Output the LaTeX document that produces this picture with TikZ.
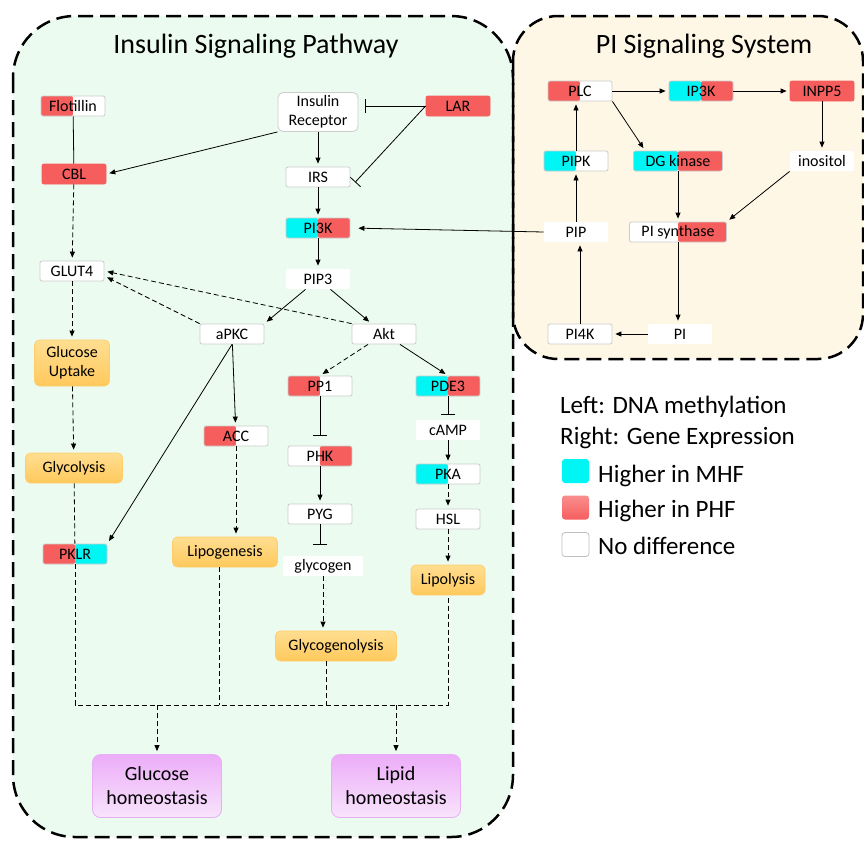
\documentclass[tikz,border=0pt]{standalone}
\usepackage{fontspec}
\setmainfont{Carlito}
\usetikzlibrary{arrows.meta}

\definecolor{rojo}{RGB}{246,94,94}
\definecolor{cian}{RGB}{0,245,245}
\definecolor{verdefondo}{RGB}{235,251,240}
\definecolor{cremafondo}{RGB}{254,247,230}
\definecolor{naranja}{RGB}{255,201,92}
\definecolor{naranjaclaro}{RGB}{255,222,145}
\definecolor{naranjaborde}{RGB}{255,205,105}
\definecolor{morado}{RGB}{236,172,248}
\definecolor{moradoclaro}{RGB}{248,228,252}
\definecolor{moradoborde}{RGB}{232,175,245}

\tikzset{
  gen/.style={rounded corners=2pt, minimum width=64pt, minimum height=20pt, inner sep=1pt,
    font=\fontsize{16}{19}\selectfont, draw=black!20, line width=0.8pt},
  mitad/.style 2 args={gen, path picture={
      \fill[#1] (path picture bounding box.south west) rectangle (path picture bounding box.north);
      \fill[#2] (path picture bounding box.south) rectangle (path picture bounding box.north east);}},
  rojogen/.style={gen, fill=rojo, draw=rojo},
  libre/.style={gen, draw=none, fill=white},
  proceso/.style={rounded corners=5pt, draw=naranjaborde, top color=naranjaclaro, bottom color=naranja,
    minimum height=30pt, inner sep=2pt, align=center, font=\fontsize{16}{19}\selectfont, line width=0.8pt},
  homeo/.style={rounded corners=8pt, draw=moradoborde, top color=morado, bottom color=moradoclaro,
    minimum width=129pt, minimum height=63pt, align=center, font=\fontsize{20}{24}\selectfont, line width=0.8pt},
  titulo/.style={font=\fontsize{28}{32}\selectfont, inner sep=0pt},
  leyenda/.style={font=\fontsize{25}{30}\selectfont, inner sep=0pt},
  cuadro/.style={minimum width=27pt, minimum height=24pt, rounded corners=3pt, inner sep=0pt},
  panel/.style={line width=2.5pt, dash pattern=on 15pt off 7pt},
  linea/.style={line width=0.8pt},
  guion/.style={linea, dash pattern=on 5pt off 3pt},
  flecha/.style={linea, -{Triangle[length=6pt,width=5pt]}, shorten >=3pt},
  punteada/.style={flecha, dash pattern=on 5pt off 3pt},
  inhibe/.style={linea, -{Bar[width=14pt]}, shorten >=7pt},
}

\begin{document}
\begin{tikzpicture}[x=1pt, y=-1pt]
  \useasboundingbox (0,0) rectangle (864,841);

  % Paneles
  \fill[verdefondo, rounded corners=62pt] (13,16) rectangle (513,837);
  \fill[cremafondo, rounded corners=45pt] (513,16) rectangle (863,359);
  \draw[panel, rounded corners=62pt] (13,16) rectangle (513,837);
  \draw[panel, rounded corners=45pt] (513,16) rectangle (863,359);

  % Titulos
  \node[titulo, anchor=base] (tinsulina) at (256,53) {Insulin Signaling Pathway};
  \node[titulo, anchor=base] (tpi) at (704,53) {PI Signaling System};

  % Ruta de la insulina
  \node[mitad={rojo}{white}] (flot) at (73,106) {Flotillin};
  \node[gen, fill=white, minimum width=80pt, minimum height=39pt, align=center, rounded corners=5pt] (ir) at (318,112) {Insulin\\Receptor};
  \node[rojogen] (lar) at (458,106) {LAR};
  \node[rojogen] (cbl) at (74,174) {CBL};
  \node[gen, fill=white] (irs) at (318,177) {IRS};
  \node[mitad={cian}{rojo}] (pi3k) at (318,228) {PI3K};
  \node[gen, fill=white] (glut4) at (72,271) {GLUT4};
  \node[libre] (pip3) at (318,279) {PIP3};
  \node[gen, fill=white] (apkc) at (232,334) {aPKC};
  \node[gen, fill=white] (akt) at (384,334) {Akt};
  \node[proceso, minimum width=75pt, minimum height=46pt] (captacion) at (72,363) {Glucose\\Uptake};
  \node[mitad={rojo}{white}] (pp1) at (320,386) {PP1};
  \node[mitad={cian}{rojo}] (pde3) at (448,386) {PDE3};
  \node[mitad={rojo}{white}] (acc) at (236,436) {ACC};
  \node[libre] (camp) at (448,430) {cAMP};
  \node[proceso, minimum width=97pt] (glucolisis) at (74,468) {Glycolysis};
  \node[mitad={white}{rojo}] (phk) at (320,456) {PHK};
  \node[mitad={cian}{white}] (pka) at (448,474) {PKA};
  \node[gen, fill=white] (pyg) at (320,514) {PYG};
  \node[gen, fill=white] (hsl) at (448,519) {HSL};
  \node[mitad={rojo}{cian}] (pklr) at (75,554) {PKLR};
  \node[proceso, minimum width=105pt] (lipogen) at (225,552) {Lipogenesis};
  \node[libre, minimum width=80pt] (glucogeno) at (323,566) {glycogen};
  \node[proceso, minimum width=74pt] (lipolisis) at (448,580) {Lipolysis};
  \node[proceso, minimum width=121pt] (glucogenolisis) at (336,646) {Glycogenolysis};
  \node[homeo] (hglucosa) at (157,786) {Glucose\\homeostasis};
  \node[homeo] (hlipido) at (396,786) {Lipid\\homeostasis};

  % Sistema PI
  \node[mitad={rojo}{white}] (plc) at (580,91) {PLC};
  \node[mitad={cian}{rojo}] (ip3k) at (701,91) {IP3K};
  \node[rojogen] (inpp5) at (822,91) {INPP5};
  \node[mitad={cian}{white}] (pipk) at (576,161) {PIPK};
  \node[mitad={cian}{rojo}, minimum width=89pt] (dgk) at (678,161) {DG kinase};
  \node[libre] (inositol) at (822,161) {inositol};
  \node[libre] (pip) at (576,232) {PIP};
  \node[mitad={white}{rojo}, minimum width=97pt] (pis) at (678,232) {PI synthase};
  \node[gen, fill=white] (pi4k) at (580,334) {PI4K};
  \node[libre] (pi) at (680,334) {PI};

  % Leyenda
  \node[leyenda, anchor=base west] (ley1) at (560,413) {Left: DNA methylation};
  \node[leyenda, anchor=base west] (ley2) at (560,444) {Right: Gene Expression};
  \node[cuadro, fill=cian] (c1) at (575.5,471) {};
  \node[cuadro, top color=rojo!70, bottom color=rojo] (c2) at (575.5,507.5) {};
  \node[cuadro, fill=white, draw=black!25, line width=0.8pt] (c3) at (575.5,544.5) {};
  \node[leyenda, anchor=base west] (ley3) at (598,482) {Higher in MHF};
  \node[leyenda, anchor=base west] (ley4) at (598,517) {Higher in PHF};
  \node[leyenda, anchor=base west] (ley5) at (598,554) {No difference};

  % Flechas insulina
  \draw[linea] (flot) -- (cbl);
  \draw[flecha] (ir.south west) -- (cbl.east);
  \draw[flecha] (ir) -- (irs);
  \draw[inhibe] (lar.west) -- (lar.west -| ir.east);
  \draw[inhibe] (lar.west) -- (irs.south east);
  \draw[flecha] (irs) -- (pi3k);
  \draw[flecha] (pi3k) -- (pip3);
  \draw[flecha, shorten >=8pt] (pip.west) -- (pi3k.east);
  \draw[punteada] (cbl) -- (glut4);
  \draw[flecha] (pip3) -- (apkc.north east);
  \draw[flecha] (pip3) -- (akt);
  \draw[punteada] (apkc.north west) -- ([yshift=-5pt]glut4.east);
  \draw[punteada] (akt.north west) -- (glut4.east);
  \draw[punteada] (glut4) -- (captacion);
  \draw[punteada] (captacion) -- (glucolisis);
  \draw[guion] (glucolisis) -- (pklr);
  \draw[flecha] (apkc.south) -- (pklr.north east);
  \draw[flecha] (apkc) -- (acc);
  \draw[punteada] (acc) -- (acc |- lipogen.north);
  \draw[punteada] (akt) -- (pp1.north);
  \draw[flecha] (akt) -- (pde3.north);
  \draw[inhibe, shorten >=10pt] (pp1) -- (phk);
  \draw[flecha] (phk) -- (pyg);
  \draw[inhibe, shorten >=11pt] (pyg) -- (pyg |- glucogeno.north);
  \draw[punteada] (glucogeno) -- (glucogeno |- glucogenolisis.north);
  \draw[inhibe, shorten >=5pt] (pde3) -- (camp);
  \draw[flecha] (camp) -- (pka);
  \draw[punteada] (pka) -- (hsl);
  \draw[punteada] (hsl) -- (lipolisis);

  % Union hacia la homeostasis
  \coordinate (bus) at (0,705);
  \draw[guion] (pklr) -- (pklr |- bus) -- (lipolisis |- bus) -- (lipolisis);
  \draw[guion] ([xshift=-6pt]lipogen.south) -- ([xshift=-6pt]lipogen.south |- bus);
  \draw[guion] ([xshift=-10pt]glucogenolisis.south) -- ([xshift=-10pt]glucogenolisis.south |- bus);
  \draw[punteada] (hglucosa.north |- bus) -- (hglucosa);
  \draw[punteada] (hlipido.north |- bus) -- (hlipido);

  % Flechas PI
  \draw[flecha] (plc) -- (ip3k);
  \draw[flecha] (ip3k) -- (inpp5);
  \draw[flecha] (plc.south east) -- ([xshift=12pt]dgk.north west);
  \draw[flecha] (inpp5) -- (inositol);
  \draw[flecha] (inositol.south west) -- (pis.north east);
  \draw[flecha] (dgk) -- (pis);
  \draw[flecha] (pipk) -- (pipk |- plc.south);
  \draw[flecha] (pip) -- (pipk);
  \draw[flecha] (pis) -- (pis |- pi.north);
  \draw[flecha] (pi) -- (pi4k);
  \draw[flecha] (pi4k.north) -- (pi4k.north |- pip.south);
\end{tikzpicture}
\end{document}
